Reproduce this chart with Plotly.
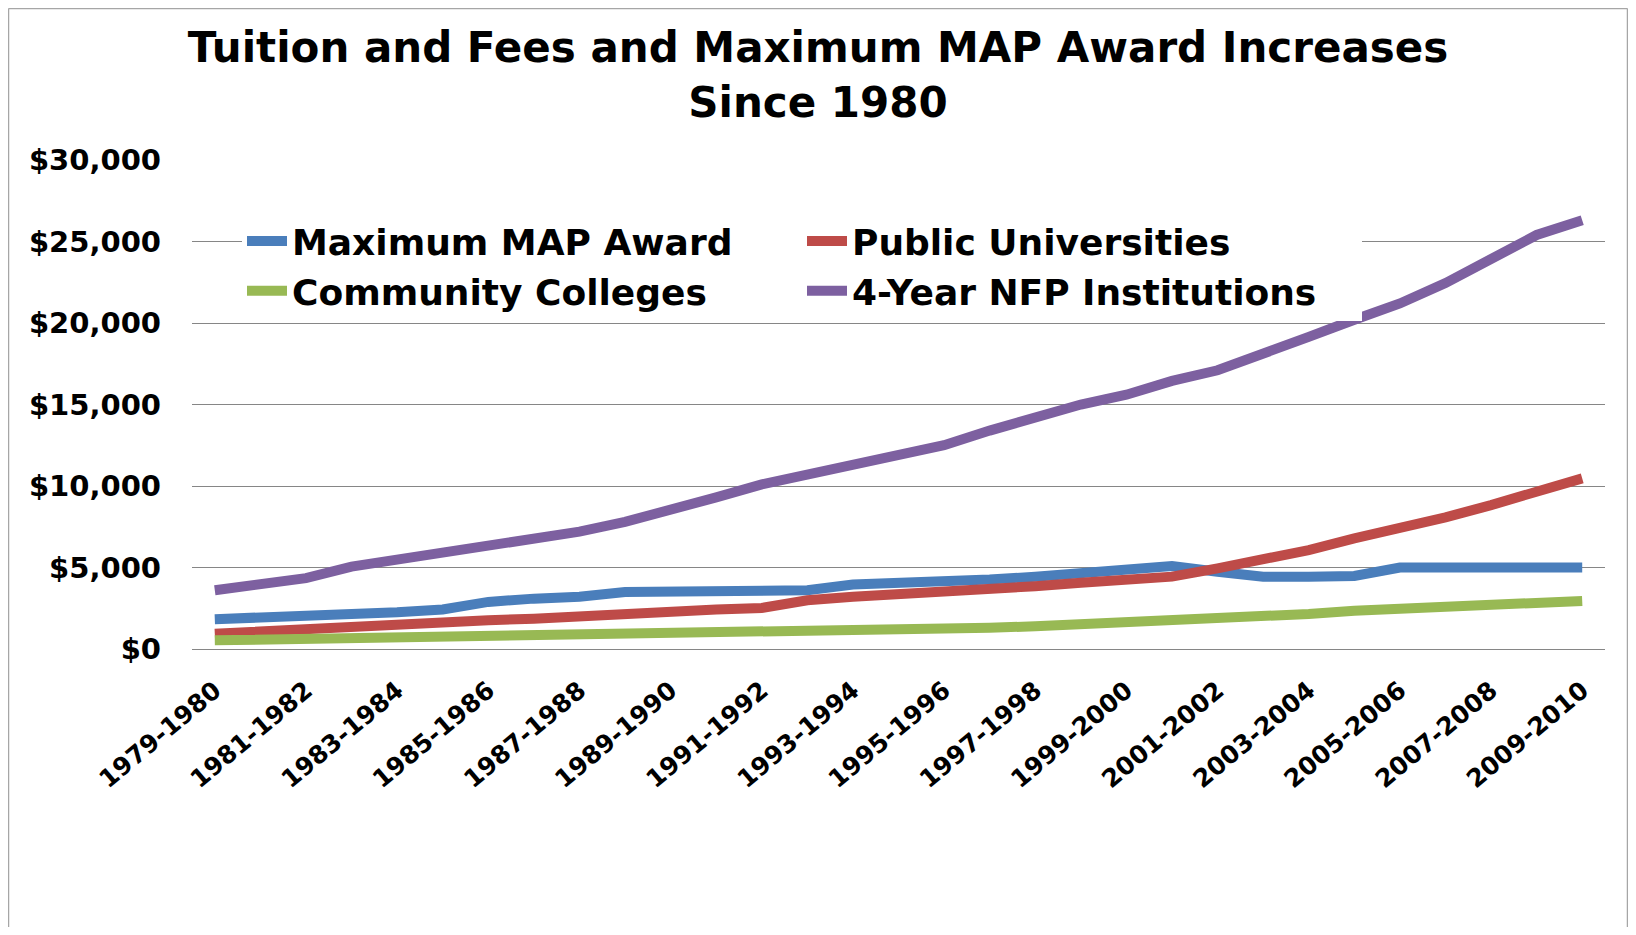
"""Tuition and fees vs. maximum MAP award, 1979-1980 to 2009-2010."""
import plotly.graph_objects as go

years = [f"{y}-{y + 1}" for y in range(1979, 2010)]

map_award = [1830, 1900, 1990, 2070, 2250, 2420, 2890, 3090, 3200, 3500,
             3500, 3500, 3500, 3600, 3950, 4020, 4120, 4260, 4430, 4630,
             4850, 5090, 4740, 4440, 4440, 4480, 5000, 5000, 5000, 5000, 5000]
public_univ = [940, 1100, 1250, 1390, 1560, 1660, 1760, 1860, 2010, 2270,
               2340, 2420, 2520, 2990, 3200, 3340, 3500, 3670, 3850, 4060,
               4250, 4440, 4950, 5460, 6070, 6790, 7400, 8080, 8830, 9650, 10470]
community = [530, 570, 610, 660, 700, 740, 780, 820, 860, 880,
             900, 940, 1000, 1070, 1110, 1170, 1230, 1310, 1390, 1500,
             1650, 1750, 1850, 1950, 2150, 2350, 2490, 2660, 2800, 2900, 2950]
nfp_4yr = [3600, 3950, 4350, 5050, 5450, 5950, 6400, 6800, 7200, 7800,
           8500, 9300, 10100, 10700, 11300, 11900, 12500, 13400, 14200, 15000,
           15600, 16450, 17100, 18050, 19150, 20200, 21200, 22450, 23850, 25400, 26300]

series = [
    ("Maximum MAP Award", map_award, "#4A7EBB"),
    ("Public Universities", public_univ, "#BE4B48"),
    ("Community Colleges", community, "#98B954"),
    ("4-Year NFP Institutions", nfp_4yr, "#7D60A0"),
]

FONT = "DejaVu Sans"
W, H = 1620, 919
L, R, T, B = 184, 23, 152, 278
pw, ph = W - L - R, H - T - B

fig = go.Figure()
for name, vals, color in series:
    fig.add_trace(go.Scatter(
        x=years, y=vals, name=name, mode="lines",
        line=dict(color=color, width=10),
    ))

# thin frame round the chart area
def px_x(p):
    return (p - L) / pw

def px_y(p):
    return (H - B - p) / ph

frame = dict(type="line", xref="paper", yref="paper",
             line=dict(color="#A6A6A6", width=1.5))
fig.add_shape(**frame, x0=px_x(0.5), x1=px_x(0.5), y0=px_y(H), y1=px_y(0.5))
fig.add_shape(**frame, x0=px_x(0.5), x1=px_x(W - 0.5), y0=px_y(0.5), y1=px_y(0.5))
fig.add_shape(**frame, x0=px_x(W - 0.5), x1=px_x(W - 0.5), y0=px_y(H), y1=px_y(0.5))

fig.update_layout(
    width=W, height=H,
    margin=dict(l=L, r=R, t=T, b=B),
    paper_bgcolor="white", plot_bgcolor="white",
    title=dict(
        text="Tuition and Fees and Maximum MAP Award Increases<br>Since 1980",
        x=0.5, xanchor="center", xref="container",
        y=1 - 54 / H, yanchor="top", yref="container",
        font=dict(family=FONT, size=42, color="black", weight="bold"),
    ),
    showlegend=True,
    legend=dict(
        orientation="h", x=px_x(234), y=px_y(203), xanchor="left", yanchor="top",
        bgcolor="white", borderwidth=0,
        entrywidth=505, entrywidthmode="pixels",
        font=dict(family=FONT, size=36, color="black", weight="bold"),
        itemwidth=40,
    ),
    xaxis=dict(
        type="category", range=[-0.5, 30.5],
        tickvals=years[::2], tickangle=-40,
        showgrid=False, showline=True, linecolor="#868686", linewidth=1,
        ticks="", ticklabelstandoff=16,
        tickfont=dict(family=FONT, size=25, color="black", weight="bold"),
    ),
    yaxis=dict(
        range=[0, 30000], dtick=5000, tickprefix="$", tickformat=",d",
        showgrid=True, gridcolor="#868686", gridwidth=1,
        zeroline=True, zerolinecolor="#868686", zerolinewidth=1,
        ticks="", ticklabelstandoff=30,
        tickfont=dict(family=FONT, size=29, color="black", weight="bold"),
    ),
)

fig.write_html("out.html")
